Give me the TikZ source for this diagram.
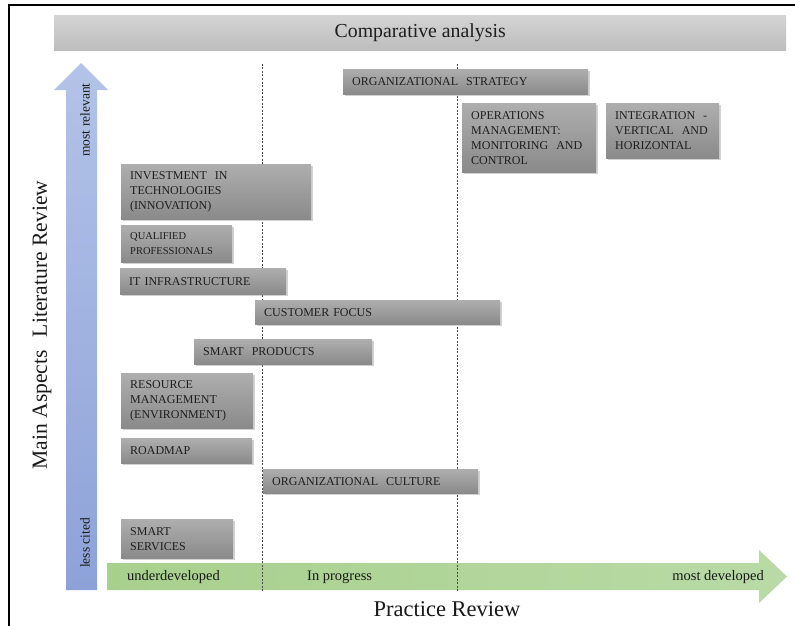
\documentclass[tikz,border=0pt]{standalone}
\usepackage{fontspec}
\setmainfont{Liberation Serif}
\usetikzlibrary{shadows}
\definecolor{boxtop}{HTML}{AEAEAE}
\definecolor{boxbot}{HTML}{8A8A8A}
\definecolor{bartop}{HTML}{D4D4D4}
\definecolor{barbot}{HTML}{BDBDBD}
\definecolor{bluetop}{HTML}{B3C3E8}
\definecolor{bluebot}{HTML}{8DA2D8}
\definecolor{greenl}{HTML}{A8D08D}
\definecolor{greenr}{HTML}{B9DAA6}
\definecolor{txt}{HTML}{1E1E1E}
\tikzset{
  aspect/.style={draw=none, top color=boxtop, bottom color=boxbot, anchor=north west,
    inner xsep=9pt, inner ysep=0pt, align=left, text=txt,
    font=\fontsize{12}{15}\selectfont,
    drop shadow={shadow xshift=1.5pt, shadow yshift=-1.5pt, opacity=0.35}},
  guide/.style={draw=black!70, line width=0.6pt, dash pattern=on 2pt off 1.5pt},
  lbl/.style={inner sep=0pt, text=black!90}
}
\newcommand{\aspectbox}[7]{% name, x1, y1, x2, y2, text
  \pgfmathsetmacro{\bw}{#4-#2}\pgfmathsetmacro{\bh}{#5-#3}\pgfmathsetmacro{\tw}{#4-#2-18}
  \node[aspect, minimum width=\bw pt, minimum height=\bh pt, text width=\tw pt] (#1) at (#2,#3) {#6};
}
\begin{document}
\begin{tikzpicture}[x=1pt, y=-1pt]
\useasboundingbox (0,0) rectangle (795,626);
\fill[white] (0,0) rectangle (795,626);
% frame
\draw[black, line width=1.2pt] (9,626) -- (9,5) -- (795,5);
% title bar
\node[draw=none, top color=bartop, bottom color=barbot, anchor=north west,
  minimum width=732pt, minimum height=35pt, inner sep=0pt, text=txt,
  font=\fontsize{19.8}{22}\selectfont] (title) at (54,15) {Comparative analysis};
% blue arrow
\shade[top color=bluetop, bottom color=bluebot]
  (66,590) -- (66,90) -- (54,90) -- (81,63) -- (108,90) -- (97,90) -- (97,590) -- cycle;
\node[lbl, rotate=90, font=\fontsize{13.5}{15}\selectfont] (mostrel) at (85,120) {most relevant};
\node[lbl, rotate=90, font=\fontsize{13.5}{15}\selectfont] (lesscited) at (85,543) {less cited};
% green arrow
\shade[left color=greenl, right color=greenr]
  (107,563) -- (759,563) -- (759,550) -- (787,576.5) -- (759,603) -- (759,590) -- (107,590) -- cycle;
\node[lbl, anchor=west, font=\fontsize{14.5}{16}\selectfont] (under) at (127,577) {underdeveloped};
\node[lbl, anchor=west, font=\fontsize{14.5}{16}\selectfont] (inprog) at (307,577) {In progress};
\node[lbl, anchor=east, font=\fontsize{14.5}{16}\selectfont] (mostdev) at (764,577) {most developed};
% axis titles
\node[lbl, font=\fontsize{22.5}{24}\selectfont] (practice) at (447,609) {Practice Review};
\node[lbl, rotate=90, font=\fontsize{21.6}{24}\selectfont] (litrev) at (42,325) {Main Aspects\hspace{0.6em}Literature Review};
% guides
\coordinate (g1t) at (262,64); \coordinate (g1b) at (262,592);
\coordinate (g2t) at (457,64); \coordinate (g2b) at (457,592);
\draw[guide] (g1t) -- (g1b);
\draw[guide] (g2t) -- (g2b);
% aspect boxes
\aspectbox{strategy}{343}{69}{588}{94}{ORGANIZATIONAL\ \ STRATEGY}{}
\aspectbox{operations}{462}{103}{596}{172}{OPERATIONS\\MANAGEMENT:\\MONITORING\ \ AND\\CONTROL}{}
\aspectbox{integration}{606}{103}{719}{158}{INTEGRATION\ \ -\\VERTICAL\ \ AND\\HORIZONTAL}{}
\aspectbox{investment}{121}{164}{311}{219}{INVESTMENT\ \ IN\\TECHNOLOGIES\\(INNOVATION)}{}
\aspectbox{qualified}{121}{225}{232}{262}{\fontsize{10.5}{15}\selectfont QUALIFIED\\PROFESSIONALS}{}
\aspectbox{itinfra}{120}{268}{286}{294}{IT INFRASTRUCTURE}{}
\aspectbox{customer}{255}{300}{500}{324}{CUSTOMER FOCUS}{}
\aspectbox{products}{194}{339}{372}{364}{SMART\ \ PRODUCTS}{}
\aspectbox{resource}{121}{373}{253}{428}{RESOURCE\\MANAGEMENT\\(ENVIRONMENT)}{}
\aspectbox{roadmap}{121}{438}{252}{463}{ROADMAP}{}
\aspectbox{culture}{263}{469}{478}{493}{ORGANIZATIONAL\ \ CULTURE}{}
\aspectbox{services}{121}{519}{233}{558}{SMART\\SERVICES}{}
\end{tikzpicture}
\end{document}
